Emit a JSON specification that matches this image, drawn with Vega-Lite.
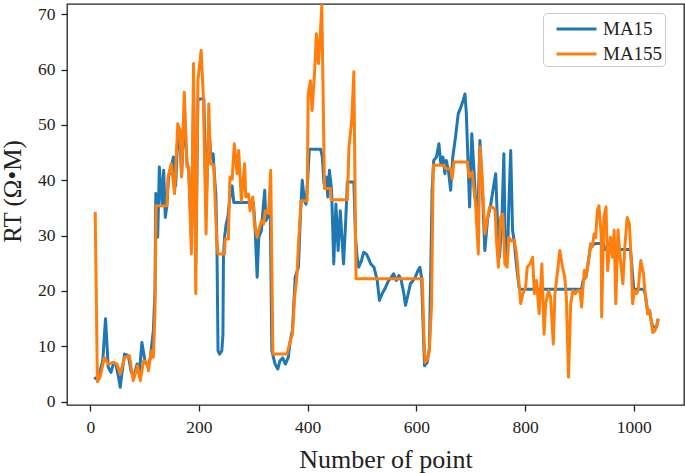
{
"$schema": "https://vega.github.io/schema/vega-lite/v6.json",
"width": 617, "height": 401,
"autosize": {"type": "none"},
"padding": {"left": 67, "top": 4, "right": 1, "bottom": 68},
"background": "white",
"config": {"view": {"stroke": "#222", "strokeWidth": 1.3}, "font": "Liberation Serif",
  "axis": {"labelFont": "Liberation Serif", "titleFont": "Liberation Serif"},
  "legend": {"labelFont": "Liberation Serif", "titleFont": "Liberation Serif"}},
"data": {"values": [
{"s":"MA15","x":7,"y":4.1},{"s":"MA15","x":10,"y":4.3},{"s":"MA15","x":14,"y":4.0},{"s":"MA15","x":18,"y":5.5},{"s":"MA15","x":23,"y":7.5},{"s":"MA15","x":28,"y":15.0},{"s":"MA15","x":33,"y":6.2},{"s":"MA15","x":38,"y":5.3},{"s":"MA15","x":43,"y":7.1},{"s":"MA15","x":47,"y":6.8},{"s":"MA15","x":52,"y":4.4},{"s":"MA15","x":55,"y":2.6},{"s":"MA15","x":58,"y":5.0},{"s":"MA15","x":63,"y":8.6},{"s":"MA15","x":70,"y":8.3},{"s":"MA15","x":75,"y":5.5},{"s":"MA15","x":80,"y":4.5},{"s":"MA15","x":86,"y":6.8},{"s":"MA15","x":90,"y":5.0},{"s":"MA15","x":95,"y":10.7},{"s":"MA15","x":101,"y":7.1},{"s":"MA15","x":106,"y":6.5},{"s":"MA15","x":110,"y":7.7},{"s":"MA15","x":116,"y":12.8},{"s":"MA15","x":119,"y":20},{"s":"MA15","x":120.5,"y":37.6},{"s":"MA15","x":124,"y":29.7},{"s":"MA15","x":127,"y":42.4},{"s":"MA15","x":132,"y":35.7},{"s":"MA15","x":135,"y":41.8},{"s":"MA15","x":138,"y":33.3},{"s":"MA15","x":141,"y":35.5},{"s":"MA15","x":144,"y":40.6},{"s":"MA15","x":149,"y":42.5},{"s":"MA15","x":153,"y":44.2},{"s":"MA15","x":157,"y":39},{"s":"MA15","x":161,"y":48},{"s":"MA15","x":165,"y":47},{"s":"MA15","x":168,"y":41},{"s":"MA15","x":173,"y":52},{"s":"MA15","x":178,"y":43},{"s":"MA15","x":181,"y":42},{"s":"MA15","x":186,"y":30},{"s":"MA15","x":190,"y":55},{"s":"MA15","x":194,"y":25},{"s":"MA15","x":198,"y":54.7},{"s":"MA15","x":209,"y":54.7},{"s":"MA15","x":213,"y":35},{"s":"MA15","x":218,"y":50},{"s":"MA15","x":222,"y":44},{"s":"MA15","x":226,"y":44.8},{"s":"MA15","x":229,"y":40},{"s":"MA15","x":231,"y":37.6},{"s":"MA15","x":233,"y":28.5},{"s":"MA15","x":235,"y":9.2},{"s":"MA15","x":238,"y":8.6},{"s":"MA15","x":242,"y":9.2},{"s":"MA15","x":244,"y":12},{"s":"MA15","x":245,"y":26.1},{"s":"MA15","x":247,"y":29.7},{"s":"MA15","x":250,"y":32.1},{"s":"MA15","x":253,"y":33.3},{"s":"MA15","x":257,"y":37},{"s":"MA15","x":261,"y":39},{"s":"MA15","x":264,"y":36},{"s":"MA15","x":266,"y":36},{"s":"MA15","x":300,"y":36},{"s":"MA15","x":303,"y":32},{"s":"MA15","x":307,"y":22.5},{"s":"MA15","x":310,"y":29.7},{"s":"MA15","x":315,"y":31},{"s":"MA15","x":318,"y":35},{"s":"MA15","x":321,"y":38.2},{"s":"MA15","x":323,"y":32.7},{"s":"MA15","x":327,"y":33.5},{"s":"MA15","x":331,"y":36},{"s":"MA15","x":334,"y":9.2},{"s":"MA15","x":340,"y":6.8},{"s":"MA15","x":345,"y":5.9},{"s":"MA15","x":349,"y":7.4},{"s":"MA15","x":354,"y":7.9},{"s":"MA15","x":359,"y":6.8},{"s":"MA15","x":364,"y":7.9},{"s":"MA15","x":368,"y":11},{"s":"MA15","x":372,"y":13},{"s":"MA15","x":377,"y":22.5},{"s":"MA15","x":383,"y":24.3},{"s":"MA15","x":387,"y":34.5},{"s":"MA15","x":390,"y":40},{"s":"MA15","x":394,"y":36.3},{"s":"MA15","x":397,"y":35.7},{"s":"MA15","x":400,"y":40},{"s":"MA15","x":403,"y":45.6},{"s":"MA15","x":424,"y":45.6},{"s":"MA15","x":427,"y":44.2},{"s":"MA15","x":430,"y":39.4},{"s":"MA15","x":434,"y":40.6},{"s":"MA15","x":437,"y":37},{"s":"MA15","x":440,"y":41.8},{"s":"MA15","x":444,"y":38.2},{"s":"MA15","x":448,"y":24.9},{"s":"MA15","x":452,"y":35.7},{"s":"MA15","x":456,"y":27.3},{"s":"MA15","x":460,"y":34.5},{"s":"MA15","x":463,"y":29.7},{"s":"MA15","x":466,"y":24.9},{"s":"MA15","x":470,"y":32.7},{"s":"MA15","x":473,"y":39.7},{"s":"MA15","x":485,"y":39.7},{"s":"MA15","x":488,"y":29.7},{"s":"MA15","x":491,"y":26.1},{"s":"MA15","x":494,"y":24.3},{"s":"MA15","x":499,"y":25.5},{"s":"MA15","x":503,"y":27},{"s":"MA15","x":508,"y":26.7},{"s":"MA15","x":511,"y":26.1},{"s":"MA15","x":516,"y":24.9},{"s":"MA15","x":522,"y":24.3},{"s":"MA15","x":528,"y":21.9},{"s":"MA15","x":532,"y":18.3},{"s":"MA15","x":537,"y":19.5},{"s":"MA15","x":543,"y":20.6},{"s":"MA15","x":549,"y":21.9},{"s":"MA15","x":554,"y":22.5},{"s":"MA15","x":558,"y":23.1},{"s":"MA15","x":563,"y":21.9},{"s":"MA15","x":568,"y":22.8},{"s":"MA15","x":572,"y":22},{"s":"MA15","x":577,"y":19.5},{"s":"MA15","x":580,"y":17.4},{"s":"MA15","x":585,"y":19.5},{"s":"MA15","x":589,"y":21.3},{"s":"MA15","x":594,"y":21.9},{"s":"MA15","x":598,"y":22.5},{"s":"MA15","x":603,"y":23.7},{"s":"MA15","x":606.5,"y":24.3},{"s":"MA15","x":609.5,"y":22.5},{"s":"MA15","x":612,"y":15},{"s":"MA15","x":615,"y":6.5},{"s":"MA15","x":620,"y":7.1},{"s":"MA15","x":624,"y":9.7},{"s":"MA15","x":629,"y":38.2},{"s":"MA15","x":632,"y":43.6},{"s":"MA15","x":637,"y":44.2},{"s":"MA15","x":641.5,"y":46.6},{"s":"MA15","x":645,"y":43},{"s":"MA15","x":649,"y":44.2},{"s":"MA15","x":652.5,"y":41.2},{"s":"MA15","x":655,"y":43.6},{"s":"MA15","x":659,"y":41.8},{"s":"MA15","x":663,"y":38.2},{"s":"MA15","x":667,"y":44.2},{"s":"MA15","x":672,"y":47.8},{"s":"MA15","x":677,"y":52},{"s":"MA15","x":681.5,"y":53.1},{"s":"MA15","x":686,"y":54.4},{"s":"MA15","x":689.5,"y":55.6},{"s":"MA15","x":692,"y":52},{"s":"MA15","x":696,"y":40.6},{"s":"MA15","x":698,"y":35.2},{"s":"MA15","x":702,"y":48.4},{"s":"MA15","x":706,"y":41.8},{"s":"MA15","x":709,"y":36},{"s":"MA15","x":713,"y":33},{"s":"MA15","x":717,"y":47.2},{"s":"MA15","x":721.5,"y":38.2},{"s":"MA15","x":726,"y":27.3},{"s":"MA15","x":731,"y":33},{"s":"MA15","x":737,"y":35.7},{"s":"MA15","x":741,"y":38.2},{"s":"MA15","x":746,"y":41.2},{"s":"MA15","x":749,"y":33},{"s":"MA15","x":753,"y":26.1},{"s":"MA15","x":757.5,"y":33},{"s":"MA15","x":761,"y":44.8},{"s":"MA15","x":764,"y":24.9},{"s":"MA15","x":768,"y":27},{"s":"MA15","x":770,"y":35},{"s":"MA15","x":773.6,"y":45.4},{"s":"MA15","x":777,"y":31},{"s":"MA15","x":780,"y":29},{"s":"MA15","x":784,"y":24.9},{"s":"MA15","x":789,"y":20.6},{"s":"MA15","x":792,"y":20.3},{"s":"MA15","x":904,"y":20.3},{"s":"MA15","x":907,"y":22},{"s":"MA15","x":912,"y":22.5},{"s":"MA15","x":915,"y":24.3},{"s":"MA15","x":921,"y":28.5},{"s":"MA15","x":925,"y":28.3},{"s":"MA15","x":930,"y":28.6},{"s":"MA15","x":944,"y":28.6},{"s":"MA15","x":947,"y":27.5},{"s":"MA15","x":994,"y":27.5},{"s":"MA15","x":997,"y":24},{"s":"MA15","x":1000,"y":20.3},{"s":"MA15","x":1018,"y":20.3},{"s":"MA15","x":1021,"y":19.5},{"s":"MA15","x":1026,"y":15.9},{"s":"MA15","x":1029,"y":16.5},{"s":"MA15","x":1032,"y":14.7},{"s":"MA15","x":1035,"y":13.5},{"s":"MA15","x":1042,"y":13.5},{"s":"MA15","x":1045,"y":15},
{"s":"MA155","x":9,"y":34.3},{"s":"MA155","x":13,"y":3.6},{"s":"MA155","x":18,"y":4.5},{"s":"MA155","x":26,"y":8.0},{"s":"MA155","x":33,"y":6.8},{"s":"MA155","x":42,"y":7.1},{"s":"MA155","x":49,"y":6.8},{"s":"MA155","x":55,"y":5.0},{"s":"MA155","x":63,"y":8.0},{"s":"MA155","x":72,"y":8.3},{"s":"MA155","x":79,"y":3.8},{"s":"MA155","x":87,"y":6.5},{"s":"MA155","x":92,"y":3.8},{"s":"MA155","x":98,"y":7.4},{"s":"MA155","x":104,"y":7.1},{"s":"MA155","x":107,"y":5.6},{"s":"MA155","x":112,"y":9.2},{"s":"MA155","x":116,"y":8.0},{"s":"MA155","x":119,"y":15.9},{"s":"MA155","x":121,"y":35.4},{"s":"MA155","x":141,"y":35.4},{"s":"MA155","x":143,"y":40.6},{"s":"MA155","x":149,"y":43.0},{"s":"MA155","x":155,"y":37.6},{"s":"MA155","x":161,"y":50.2},{"s":"MA155","x":165,"y":49.0},{"s":"MA155","x":168,"y":40.6},{"s":"MA155","x":173,"y":55.9},{"s":"MA155","x":178,"y":42.4},{"s":"MA155","x":181,"y":42.4},{"s":"MA155","x":186,"y":26.7},{"s":"MA155","x":190,"y":61.1},{"s":"MA155","x":194,"y":19.5},{"s":"MA155","x":198,"y":58.0},{"s":"MA155","x":204,"y":63.5},{"s":"MA155","x":208,"y":55.0},{"s":"MA155","x":213,"y":30.3},{"s":"MA155","x":218,"y":53.8},{"s":"MA155","x":221,"y":43.0},{"s":"MA155","x":227,"y":42.8},{"s":"MA155","x":233,"y":28.5},{"s":"MA155","x":235,"y":26.7},{"s":"MA155","x":247,"y":26.7},{"s":"MA155","x":248,"y":29.4},{"s":"MA155","x":254,"y":29.4},{"s":"MA155","x":257,"y":40.6},{"s":"MA155","x":261,"y":40.2},{"s":"MA155","x":265,"y":46.6},{"s":"MA155","x":270,"y":41.2},{"s":"MA155","x":273,"y":45.4},{"s":"MA155","x":278,"y":36.3},{"s":"MA155","x":284,"y":43.0},{"s":"MA155","x":286,"y":37.0},{"s":"MA155","x":291,"y":37.5},{"s":"MA155","x":294,"y":34.5},{"s":"MA155","x":299,"y":37.0},{"s":"MA155","x":302,"y":32.1},{"s":"MA155","x":307,"y":29.7},{"s":"MA155","x":310,"y":31.0},{"s":"MA155","x":315,"y":32.7},{"s":"MA155","x":319,"y":32.1},{"s":"MA155","x":322,"y":34.5},{"s":"MA155","x":328,"y":34.0},{"s":"MA155","x":332,"y":41.8},{"s":"MA155","x":336,"y":8.6},{"s":"MA155","x":362,"y":8.6},{"s":"MA155","x":368,"y":11.0},{"s":"MA155","x":372,"y":12.2},{"s":"MA155","x":376,"y":18.9},{"s":"MA155","x":380,"y":22.5},{"s":"MA155","x":383,"y":28.5},{"s":"MA155","x":388,"y":36.3},{"s":"MA155","x":399,"y":36.3},{"s":"MA155","x":401,"y":55.6},{"s":"MA155","x":405,"y":58.0},{"s":"MA155","x":408,"y":52.6},{"s":"MA155","x":413,"y":59.9},{"s":"MA155","x":416,"y":66.5},{"s":"MA155","x":420,"y":61.1},{"s":"MA155","x":423,"y":65.9},{"s":"MA155","x":426,"y":71.6},{"s":"MA155","x":431,"y":38.5},{"s":"MA155","x":442,"y":38.5},{"s":"MA155","x":443,"y":36.5},{"s":"MA155","x":473,"y":36.5},{"s":"MA155","x":476,"y":46.0},{"s":"MA155","x":481,"y":50.8},{"s":"MA155","x":485,"y":59.6},{"s":"MA155","x":487,"y":40.0},{"s":"MA155","x":489,"y":22.2},{"s":"MA155","x":611,"y":22.2},{"s":"MA155","x":614,"y":11.6},{"s":"MA155","x":616,"y":7.1},{"s":"MA155","x":620,"y":7.6},{"s":"MA155","x":624,"y":9.2},{"s":"MA155","x":628,"y":17.7},{"s":"MA155","x":631,"y":42.7},{"s":"MA155","x":651,"y":42.7},{"s":"MA155","x":654,"y":42.1},{"s":"MA155","x":663,"y":42.1},{"s":"MA155","x":666,"y":40.3},{"s":"MA155","x":669,"y":43.3},{"s":"MA155","x":694,"y":43.3},{"s":"MA155","x":697,"y":40.6},{"s":"MA155","x":703,"y":41.5},{"s":"MA155","x":706,"y":38.2},{"s":"MA155","x":709,"y":35.7},{"s":"MA155","x":714,"y":26.7},{"s":"MA155","x":717,"y":46.0},{"s":"MA155","x":721,"y":40.6},{"s":"MA155","x":726,"y":30.3},{"s":"MA155","x":731,"y":33.3},{"s":"MA155","x":735,"y":35.2},{"s":"MA155","x":740,"y":35.2},{"s":"MA155","x":745,"y":34.6},{"s":"MA155","x":747,"y":29.7},{"s":"MA155","x":751,"y":24.3},{"s":"MA155","x":755,"y":33.3},{"s":"MA155","x":759,"y":33.9},{"s":"MA155","x":763,"y":24.9},{"s":"MA155","x":767,"y":24.3},{"s":"MA155","x":770,"y":29.7},{"s":"MA155","x":775,"y":29.0},{"s":"MA155","x":780,"y":29.2},{"s":"MA155","x":784,"y":27.0},{"s":"MA155","x":789,"y":21.3},{"s":"MA155","x":792,"y":17.7},{"s":"MA155","x":796,"y":19.5},{"s":"MA155","x":801,"y":20.6},{"s":"MA155","x":804,"y":24.3},{"s":"MA155","x":809,"y":24.9},{"s":"MA155","x":814,"y":26.1},{"s":"MA155","x":817,"y":19.5},{"s":"MA155","x":821,"y":21.9},{"s":"MA155","x":826,"y":15.9},{"s":"MA155","x":831,"y":24.9},{"s":"MA155","x":835,"y":12.2},{"s":"MA155","x":838,"y":17.7},{"s":"MA155","x":843,"y":20.1},{"s":"MA155","x":847,"y":18.9},{"s":"MA155","x":852,"y":10.4},{"s":"MA155","x":855,"y":19.5},{"s":"MA155","x":860,"y":23.7},{"s":"MA155","x":864,"y":27.3},{"s":"MA155","x":869,"y":24.3},{"s":"MA155","x":873,"y":22.5},{"s":"MA155","x":876,"y":18.9},{"s":"MA155","x":880,"y":4.4},{"s":"MA155","x":884,"y":17.7},{"s":"MA155","x":888,"y":20.1},{"s":"MA155","x":892,"y":19.5},{"s":"MA155","x":897,"y":20.1},{"s":"MA155","x":901,"y":20.1},{"s":"MA155","x":904,"y":17.1},{"s":"MA155","x":909,"y":23.7},{"s":"MA155","x":912,"y":22.5},{"s":"MA155","x":915,"y":24.3},{"s":"MA155","x":921,"y":28.5},{"s":"MA155","x":924,"y":28.0},{"s":"MA155","x":927,"y":30.3},{"s":"MA155","x":930,"y":29.7},{"s":"MA155","x":933,"y":34.5},{"s":"MA155","x":936,"y":35.4},{"s":"MA155","x":940,"y":30.3},{"s":"MA155","x":941,"y":15.3},{"s":"MA155","x":945,"y":33.3},{"s":"MA155","x":949,"y":35.2},{"s":"MA155","x":952,"y":23.7},{"s":"MA155","x":957,"y":29.7},{"s":"MA155","x":961,"y":26.1},{"s":"MA155","x":964,"y":31.0},{"s":"MA155","x":967,"y":17.7},{"s":"MA155","x":971,"y":31.0},{"s":"MA155","x":975,"y":26.1},{"s":"MA155","x":980,"y":21.3},{"s":"MA155","x":984,"y":28.5},{"s":"MA155","x":988,"y":33.3},{"s":"MA155","x":992,"y":32.1},{"s":"MA155","x":995,"y":26.1},{"s":"MA155","x":998,"y":17.7},{"s":"MA155","x":1001,"y":20.1},{"s":"MA155","x":1005,"y":19.5},{"s":"MA155","x":1008,"y":20.1},{"s":"MA155","x":1013,"y":25.5},{"s":"MA155","x":1018,"y":23.1},{"s":"MA155","x":1021,"y":19.5},{"s":"MA155","x":1026,"y":15.9},{"s":"MA155","x":1029,"y":16.5},{"s":"MA155","x":1032,"y":14.7},{"s":"MA155","x":1035,"y":12.5},{"s":"MA155","x":1039,"y":12.8},{"s":"MA155","x":1043,"y":14.0},{"s":"MA155","x":1045,"y":15.0}
]},
"encoding": {
  "x": {"field": "x", "type": "quantitative", "scale": {"domain": [-42.9, 1092.5], "nice": false, "zero": false},
    "axis": {"values": [0, 200, 400, 600, 800, 1000], "format": "d", "grid": false, "domain": false, "tickSize": 6, "tickWidth": 1.3, "tickColor": "#222",
      "labelPadding": 7, "labelFontSize": 17.5, "labelColor": "#222", "labelFont": "Liberation Serif", "labelFlush": false,
      "title": "Number of point", "titleFont": "Liberation Serif", "titleFontSize": 26, "titleFontWeight": "normal", "titleColor": "#222",
      "titleBaseline": "alphabetic", "titleAlign": "center", "titleX": 318.5, "titleY": 62}},
  "y": {"field": "y", "type": "quantitative", "scale": {"domain": [-0.6, 71.86], "nice": false, "zero": false},
    "axis": {"values": [0, 10, 20, 30, 40, 50, 60, 70], "format": "d", "grid": false, "domain": false, "tickSize": 6, "tickWidth": 1.3, "tickColor": "#222",
      "labelPadding": 6, "labelFontSize": 17.5, "labelColor": "#222", "labelFont": "Liberation Serif", "labelFlush": false,
      "title": "RT (Ω•M)", "titleFont": "Liberation Serif", "titleFontSize": 25, "titleFontWeight": "normal", "titleColor": "#222",
      "titleBaseline": "alphabetic", "titleAlign": "center", "titleAngle": 270, "titleX": -47, "titleY": 187}},
  "color": {"field": "s", "type": "nominal", "scale": {"domain": ["MA15", "MA155"], "range": ["#1f77b4", "#ff7f0e"]},
    "legend": {"title": null, "orient": "none", "legendX": 476, "legendY": 9, "padding": 2, "cornerRadius": 4,
      "strokeColor": "#cccccc", "fillColor": "rgba(255,255,255,0.8)", "symbolType": "M-1.6,0H1.6", "symbolSize": 625, "symbolStrokeWidth": 3,
      "symbolOffset": 17.5, "labelFont": "Liberation Serif", "labelFontSize": 19, "labelColor": "#222", "labelOffset": 12.5, "rowPadding": 1}}
},
"layer": [
  {"transform": [{"filter": "datum.s === 'MA15'"}], "mark": {"type": "line", "strokeWidth": 3, "strokeJoin": "round", "clip": true}},
  {"transform": [{"filter": "datum.s === 'MA155'"}], "mark": {"type": "line", "strokeWidth": 3, "strokeJoin": "round", "clip": true}}
]
}
